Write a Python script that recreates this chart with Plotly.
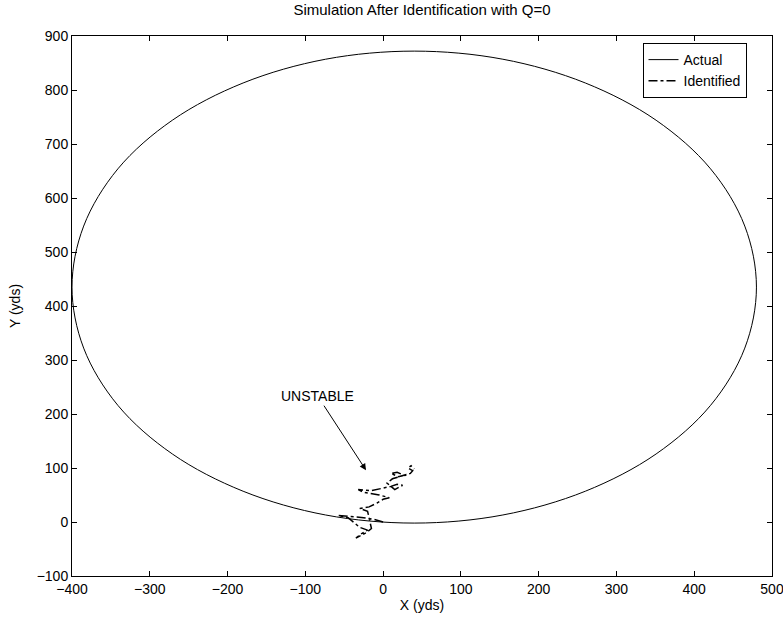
import plotly.graph_objects as go

# Actual trajectory (points read along the ellipse)
actual_x = [40, 154, 260, 351, 421, 465, 480, 465, 421, 351, 260, 154, 40,
            -74, -180, -271, -341, -385, -400, -385, -341, -271, -180, -74, 40]
actual_y = [-2, 13, 57, 126, 216, 322, 435, 548, 654, 744, 813, 857, 872,
            857, 813, 744, 654, 548, 435, 322, 216, 126, 57, 13, -2]

# Identified (unstable) trajectory
ident_x = [0, -12, -25, -40, -58, -45, -30, -20, -28, -35, -22, -15, -20, -30,
           -18, -8, 0, 8, -5, -25, -32, -15, -2, 10, 18, 25, 15, 5, 12, 25,
           30, 20, 10, 18, 28, 35, 38, 32, 36, 40]
ident_y = [0, 5, 8, 10, 12, 8, -10, -15, -22, -30, -20, -12, 20, 25, 28, 35,
           42, 45, 50, 55, 60, 58, 62, 66, 70, 68, 60, 72, 80, 85, 88, 84, 90,
           92, 86, 90, 95, 100, 104, 98]

x_ticks = [-400, -300, -200, -100, 0, 100, 200, 300, 400, 500]
y_ticks = [-100, 0, 100, 200, 300, 400, 500, 600, 700, 800, 900]

FONT = "Liberation Sans, Arial, Helvetica, sans-serif"

fig = go.Figure()
fig.add_trace(go.Scatter(x=actual_x, y=actual_y, mode="lines", name="Actual",
                         line=dict(color="black", width=1, shape="spline", smoothing=1.0)))
fig.add_trace(go.Scatter(x=ident_x, y=ident_y, mode="lines", name="Identified",
                         line=dict(color="black", width=1.5, dash="dashdot")))

fig.add_annotation(x=-22, y=96, ax=-84, ay=233, axref="x", ayref="y",
                   text="UNSTABLE", showarrow=True, arrowhead=2, arrowsize=1.3,
                   arrowwidth=1, arrowcolor="black", standoff=0,
                   font=dict(family=FONT, size=14, color="black"))

axis_common = dict(showline=True, linecolor="black", linewidth=1, mirror="allticks",
                   ticks="inside", ticklen=5, tickcolor="black", showgrid=False,
                   zeroline=False, automargin=False, ticklabeloverflow="allow",
                   tickfont=dict(family=FONT, size=14, color="black"))

fig.update_xaxes(range=[-400, 500], tickvals=x_ticks,
                 title=dict(text="X (yds)", standoff=4, font=dict(family=FONT, size=14, color="black")),
                 **axis_common)
fig.update_yaxes(range=[-100, 900], tickvals=y_ticks,
                 title=dict(text="Y (yds)", standoff=12, font=dict(family=FONT, size=14, color="black")),
                 **axis_common)

fig.update_layout(
    width=783, height=618,
    margin=dict(l=72, r=11, t=36, b=42),
    paper_bgcolor="white", plot_bgcolor="white",
    font=dict(family=FONT, size=14, color="black"),
    title=dict(text="Simulation After Identification with Q=0", x=0.539, xanchor="center",
               y=0.984, yanchor="middle", yref="container",
               font=dict(family=FONT, size=15, color="black")),
    legend=dict(x=0.815, y=0.987, xanchor="left", yanchor="top",
                bordercolor="black", borderwidth=1, bgcolor="white",
                font=dict(family=FONT, size=14, color="black"),
                tracegroupgap=0, itemwidth=30),
    showlegend=True,
)

fig.write_html("out.html")
